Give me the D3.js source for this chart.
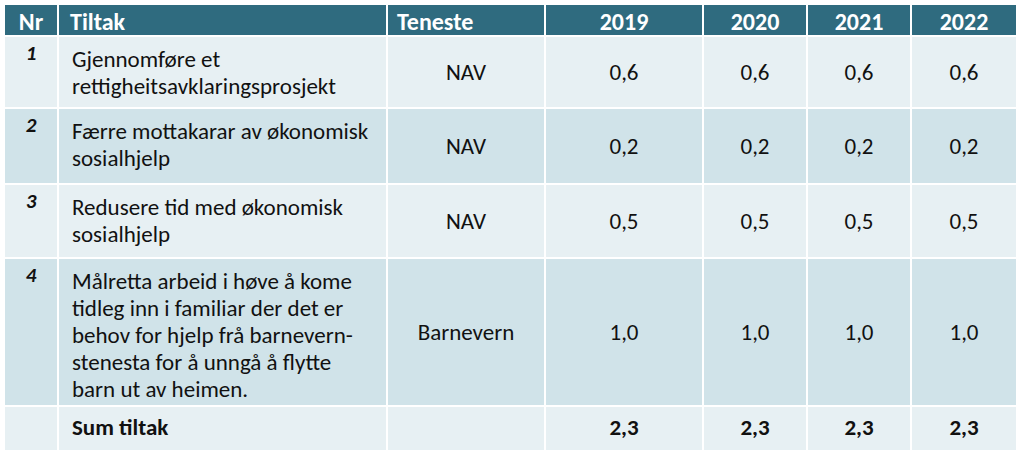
<!DOCTYPE html>
<html><head><meta charset="utf-8">
<script src="https://cdn.jsdelivr.net/npm/d3@7"></script>
<style>body{margin:0;background:#fff}svg{display:block}</style>
</head><body>
<svg id="c" width="1023" height="455"></svg>
<script>
const headers = ["Nr","Tiltak","Teneste","2019","2020","2021","2022"];
const nr = ["1","2","3","4"];
const tiltak = [
  ["Gjennomføre et","rettigheitsavklaringsprosjekt"],
  ["Færre mottakarar av økonomisk","sosialhjelp"],
  ["Redusere tid med økonomisk","sosialhjelp"],
  ["Målretta arbeid i høve å kome","tidleg inn i familiar der det er","behov for hjelp frå barnevern-","stenesta for å unngå å flytte","barn ut av heimen."]
];
const teneste = ["NAV","NAV","NAV","Barnevern"];
const years = ["2019","2020","2021","2022"];
const v2019 = [0.6,0.2,0.5,1.0];
const v2020 = [0.6,0.2,0.5,1.0];
const v2021 = [0.6,0.2,0.5,1.0];
const v2022 = [0.6,0.2,0.5,1.0];
const sumLabel = "Sum tiltak";
const sums = [2.3,2.3,2.3,2.3];

const series = [v2019,v2020,v2021,v2022];
const fmt = v => d3.format(".1f")(v).replace(".",",");
const FONT = "Carlito, Calibri, Lato, sans-serif";

const svg = d3.select("#c");
const colEdges = [4,58,387,545,703,807,911,1017];
const rowEdges = [4,36,108,184,258,406,451];
const rowFill = ["#2f6b7f","#e7f0f3","#d0e3e9","#e7f0f3","#d0e3e9","#e7f0f3"];

const g = svg.append("g");
for (let r=0;r<rowEdges.length-1;r++){
  for (let c=0;c<colEdges.length-1;c++){
    g.append("rect")
      .attr("x",colEdges[c]).attr("y",rowEdges[r])
      .attr("width",colEdges[c+1]-colEdges[c]).attr("height",rowEdges[r+1]-rowEdges[r])
      .attr("fill",rowFill[r]).attr("stroke","#fff").attr("stroke-width",2);
  }
}
const cx = c => (colEdges[c]+colEdges[c+1])/2;
const cy = r => (rowEdges[r]+rowEdges[r+1])/2;
const text = (x,y,s,opts={}) => g.append("text").attr("x",x).attr("y",y)
  .attr("font-family",FONT).attr("font-size",opts.size||23)
  .attr("font-weight",opts.bold?"bold":"normal")
  .attr("font-style",opts.italic?"italic":"normal")
  .attr("text-anchor",opts.anchor||"start")
  .attr("dominant-baseline","central")
  .attr("fill",opts.fill||"#111").text(s);

// header
const H = {bold:true,fill:"#fff",size:24};
text(cx(0),cy(0)+1,headers[0],{...H,anchor:"middle"});
text(70,cy(0)+1,headers[1],H);
text(397,cy(0)+1,headers[2],H);
years.forEach((y,i)=>text(cx(3+i),cy(0)+1,y,{...H,anchor:"middle"}));

// body rows
const LH = 27;
nr.forEach((n,i)=>{
  const r=i+1;
  text(cx(0),rowEdges[r]+17,n,{bold:true,italic:true,anchor:"middle",size:21});
  const lines=tiltak[i];
  const y0 = rowEdges[r]+23;
  lines.forEach((l,k)=>text(72,y0+k*LH,l));
  text(cx(2),cy(r),teneste[i],{anchor:"middle"});
  series.forEach((s,j)=>text(cx(3+j),cy(r),fmt(s[i]),{anchor:"middle"}));
});
// sum row
const rs = rowEdges.length-2;
text(72,cy(rs)-2,sumLabel,{bold:true});
sums.forEach((s,j)=>text(cx(3+j),cy(rs)-2,fmt(s),{bold:true,anchor:"middle"}));
</script>
</body></html>
